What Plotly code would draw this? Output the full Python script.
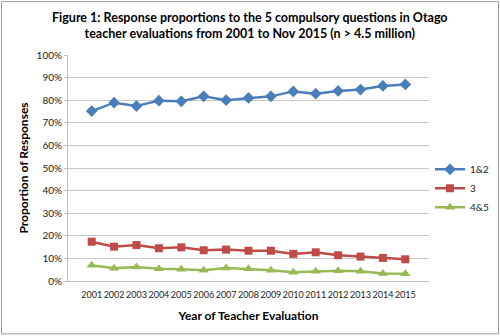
import plotly.graph_objects as go

years = [str(y) for y in range(2001, 2016)]
s12 = [75.2, 78.9, 77.4, 79.8, 79.5, 81.7, 80.0, 81.0, 81.7, 83.9, 82.9, 84.1, 84.7, 86.3, 87.0]
s3 = [17.4, 15.2, 15.9, 14.5, 14.9, 13.6, 13.9, 13.4, 13.4, 12.0, 12.7, 11.4, 10.8, 10.2, 9.6]
s45 = [7.0, 5.6, 6.2, 5.4, 5.2, 4.8, 5.8, 5.4, 4.8, 3.9, 4.3, 4.5, 4.3, 3.3, 3.2]
yticks = [0, 10, 20, 30, 40, 50, 60, 70, 80, 90, 100]

FONT = "Lato"
fig = go.Figure()
fig.add_trace(go.Scatter(x=years, y=[v / 100 for v in s12], name="1&2", mode="lines+markers",
                         line=dict(color="#4A7EBB", width=2.5),
                         marker=dict(symbol="diamond", size=9, color="#4A7EBB")))
fig.add_trace(go.Scatter(x=years, y=[v / 100 for v in s3], name="3", mode="lines+markers",
                         line=dict(color="#BE4B48", width=2.5),
                         marker=dict(symbol="square", size=8, color="#BE4B48")))
fig.add_trace(go.Scatter(x=years, y=[v / 100 for v in s45], name="4&5", mode="lines+markers",
                         line=dict(color="#98B954", width=2.5),
                         marker=dict(symbol="triangle-up", size=9, color="#98B954")))

L, R, T, B = 68, 71, 55, 54.5
pw = 500 - L - R
ph = 336 - T - B

def px_x(p):
    return (p - L) / pw

def px_y(p):
    return (336 - B - p) / ph

fig.update_layout(
    width=500, height=336,
    margin=dict(l=L, r=R, t=T, b=B, autoexpand=False),
    paper_bgcolor="white", plot_bgcolor="white",
    font=dict(family=FONT, size=10, color="#222222"),
    xaxis=dict(type="category", showgrid=False, showline=True, linecolor="#BFBFBF",
               ticks="outside", ticklen=5, tickcolor="rgba(0,0,0,0)", tickangle=0,
               tickfont=dict(size=9, color="#222222"),
               title=dict(text="<b>Year of Teacher Evaluation</b>", font=dict(size=12, color="#000000"), standoff=12)),
    yaxis=dict(range=[0, 1], tickvals=[v / 100 for v in yticks], ticktext=[f"{v}%" for v in yticks],
               showgrid=True, gridcolor="#C8C8C8", gridwidth=1, showline=True, linecolor="#BFBFBF",
               ticks="outside", ticklen=3, tickcolor="#BFBFBF", zeroline=False,
               tickfont=dict(size=10, color="#222222"),
               title=dict(text="<b>Proportion of Responses</b>", font=dict(size=12, color="#000000"), standoff=5)),
    legend=dict(x=px_x(430), y=px_y(155), xanchor="left", yanchor="top",
                font=dict(size=10, color="#222222"), bgcolor="rgba(0,0,0,0)", itemwidth=30),
    annotations=[dict(text="<b>Figure 1: Response proportions to the 5 compulsory questions in Otago<br>teacher evaluations from 2001 to Nov 2015 (n > 4.5 million)</b>",
                      xref="paper", yref="paper", x=px_x(250), y=px_y(25), xanchor="center", yanchor="middle",
                      showarrow=False, font=dict(family=FONT, size=12.5, color="#000000"))],
    shapes=[dict(type="rect", xref="paper", yref="paper",
                 x0=px_x(1.5), x1=px_x(498.5), y0=px_y(1.5), y1=px_y(334.5),
                 line=dict(color="#9A9A9A", width=1))],
)

fig.write_html("out.html")
